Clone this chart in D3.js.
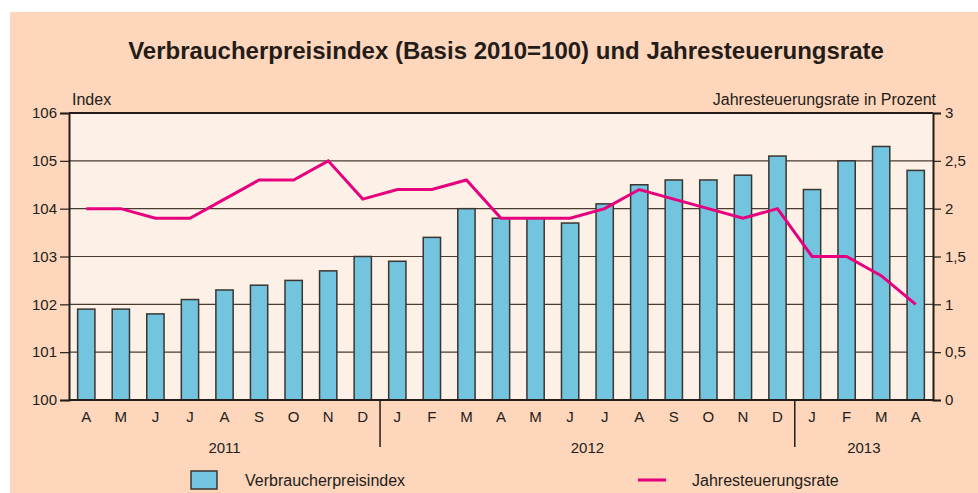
<!DOCTYPE html>
<html>
<head>
<meta charset="utf-8">
<script src="https://cdn.jsdelivr.net/npm/d3@7"></script>
<style>
  html, body { margin: 0; padding: 0; background: #fff; }
  svg { display: block; font-family: "Liberation Sans", Arial, sans-serif; }
</style>
</head>
<body>
<div id="container"></div>
<script>
const months = ["A","M","J","J","A","S","O","N","D","J","F","M","A","M","J","J","A","S","O","N","D","J","F","M","A"];
const years = [
  { label: "2011", start: 0, end: 9 },
  { label: "2012", start: 9, end: 21 },
  { label: "2013", start: 21, end: 25 },
];
const indexValues = [101.9,101.9,101.8,102.1,102.3,102.4,102.5,102.7,103.0,102.9,103.4,104.0,103.8,103.8,103.7,104.1,104.5,104.6,104.6,104.7,105.1,104.4,105.0,105.3,104.8];
const rateValues = [2.0,2.0,1.9,1.9,2.1,2.3,2.3,2.5,2.1,2.2,2.2,2.3,1.9,1.9,1.9,2.0,2.2,2.1,2.0,1.9,2.0,1.5,1.5,1.3,1.0];
const leftTicks = [100,101,102,103,104,105,106];
const rightTicks = [0,0.5,1,1.5,2,2.5,3];

const W = 978, H = 493;
const margin = { left: 69, right: 45, top: 113, bottom: 93 };
const x0 = margin.left, x1 = W - margin.right;
const y0 = H - margin.bottom, y1 = margin.top;

const ink = "#231c18";
const grid = "#4a3a30";

const svg = d3.select("#container").append("svg")
  .attr("width", W).attr("height", H);

svg.append("rect").attr("x", 10).attr("y", 12)
  .attr("width", W - 10).attr("height", H - 12).attr("fill", "#fdd6bb");

svg.append("rect").attr("x", x0).attr("y", y1)
  .attr("width", x1 - x0).attr("height", y0 - y1).attr("fill", "#fdf0e6");

const x = d3.scaleBand().domain(d3.range(months.length))
  .range([x0, x1]).paddingInner(0.5).paddingOuter(0.25);
const yL = d3.scaleLinear().domain([100, 106]).range([y0, y1]);
const yR = d3.scaleLinear().domain([0, 3]).range([y0, y1]);

// gridlines
svg.append("g").selectAll("line").data(leftTicks.slice(1))
  .enter().append("line")
  .attr("x1", x0).attr("x2", x1)
  .attr("y1", d => yL(d)).attr("y2", d => yL(d))
  .attr("stroke", grid).attr("stroke-width", 1.2);

// bars
svg.append("g").selectAll("rect").data(indexValues)
  .enter().append("rect")
  .attr("x", (d, i) => x(i))
  .attr("y", d => yL(d))
  .attr("width", x.bandwidth())
  .attr("height", d => yL(100) - yL(d))
  .attr("fill", "#72c4df")
  .attr("stroke", "#3b3530")
  .attr("stroke-width", 1.5);

// rate line
const line = d3.line()
  .x((d, i) => x(i) + x.bandwidth() / 2)
  .y(d => yR(d));
svg.append("path").datum(rateValues)
  .attr("d", line)
  .attr("fill", "none")
  .attr("stroke", "#e6007e")
  .attr("stroke-width", 3)
  .attr("stroke-linejoin", "miter");

// axes
const leftAxis = d3.axisLeft(yL).tickValues(leftTicks).tickSize(9).tickPadding(3)
  .tickFormat(d3.format("d"));
const gL = svg.append("g").attr("transform", `translate(${x0},0)`).call(leftAxis);
const rightAxis = d3.axisRight(yR).tickValues(rightTicks).tickSize(8).tickPadding(4)
  .tickFormat(d => String(d).replace(".", ","));
const gR = svg.append("g").attr("transform", `translate(${x1},0)`).call(rightAxis);
[gL, gR].forEach(g => {
  g.select(".domain").attr("stroke", ink).attr("stroke-width", 2);
  g.selectAll(".tick line").attr("stroke", ink).attr("stroke-width", 1.2);
  g.selectAll(".tick text").attr("fill", ink).style("font-size", "15px")
    .style("font-family", "'Liberation Sans', Arial, sans-serif");
});

// frame top and bottom
svg.append("line").attr("x1", x0).attr("x2", x1).attr("y1", y1).attr("y2", y1)
  .attr("stroke", ink).attr("stroke-width", 2);
svg.append("line").attr("x1", x0).attr("x2", x1).attr("y1", y0).attr("y2", y0)
  .attr("stroke", ink).attr("stroke-width", 2);

// month labels
svg.append("g").selectAll("text").data(months)
  .enter().append("text")
  .attr("x", (d, i) => x(i) + x.bandwidth() / 2)
  .attr("y", 422)
  .attr("text-anchor", "middle")
  .attr("fill", ink)
  .style("font-size", "15px")
  .text(d => d);

// year separators and labels
const step = x.step();
const edge = i => x0 + i * step;
svg.append("g").selectAll("line").data(years.slice(1))
  .enter().append("line")
  .attr("x1", d => edge(d.start)).attr("x2", d => edge(d.start))
  .attr("y1", y0).attr("y2", 447)
  .attr("stroke", ink).attr("stroke-width", 1.5);
svg.append("g").selectAll("text").data(years)
  .enter().append("text")
  .attr("x", d => (edge(d.start) + edge(d.end)) / 2)
  .attr("y", 453)
  .attr("text-anchor", "middle")
  .attr("fill", ink)
  .style("font-size", "15px")
  .text(d => d.label);

// axis titles
svg.append("text").attr("x", 72).attr("y", 105).attr("fill", ink)
  .style("font-size", "16px").text("Index");
svg.append("text").attr("x", 936).attr("y", 105).attr("fill", ink)
  .attr("text-anchor", "end").style("font-size", "16px")
  .text("Jahresteuerungsrate in Prozent");

// title
svg.append("text").attr("x", 506).attr("y", 59).attr("fill", ink)
  .attr("text-anchor", "middle")
  .style("font-size", "24px").style("font-weight", "bold")
  .text("Verbraucherpreisindex (Basis 2010=100) und Jahresteuerungsrate");

// legend
svg.append("rect").attr("x", 191).attr("y", 471).attr("width", 26).attr("height", 18)
  .attr("fill", "#72c4df").attr("stroke", "#3b3530").attr("stroke-width", 1.5);
svg.append("text").attr("x", 245).attr("y", 486).attr("fill", ink)
  .style("font-size", "16px").text("Verbraucherpreisindex");
svg.append("line").attr("x1", 638).attr("x2", 666).attr("y1", 480).attr("y2", 480)
  .attr("stroke", "#e6007e").attr("stroke-width", 3);
svg.append("text").attr("x", 692).attr("y", 486).attr("fill", ink)
  .style("font-size", "16px").text("Jahresteuerungsrate");
</script>
</body>
</html>
